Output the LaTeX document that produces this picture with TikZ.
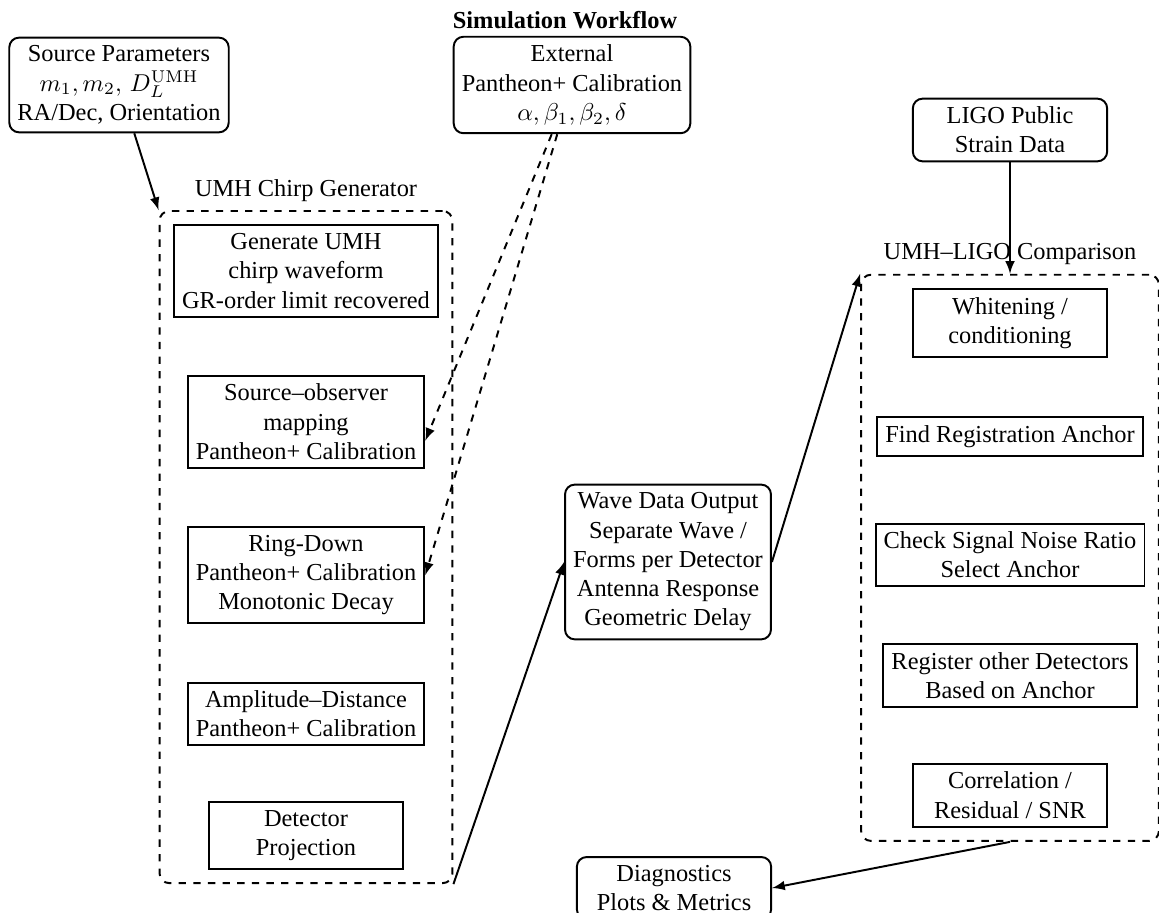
\documentclass[tikz,border=0pt]{standalone}
\usepackage[no-math]{fontspec}
\setmainfont{Liberation Serif}
\usepackage{tikz}
\usetikzlibrary{positioning}
\usetikzlibrary{fit}
\tikzset{
    blk/.style={
    draw,
    thick,
    minimum width=2.8cm,
    align=center
    },
    rblk/.style={
    blk,
    rounded corners
    },
    grp/.style={
    draw,
    thick,
    dashed,
    rounded corners,
    inner sep=5.5pt
    }
}

\begin{document}
\begin{tikzpicture}[x=0.41pt,y=-0.41pt]
\useasboundingbox (0,0) rectangle (1159,913);

\node [font=\bfseries] (title) at (565,20) {Simulation Workflow};

\node [rblk](src) at (119,85) {Source Parameters\\$m_1, m_2,\, D_L^{\mathrm{UMH}}$\\RA/Dec, Orientation};
\node [rblk](ext) at (572,85) {External\\Pantheon+ Calibration\\$\alpha, \beta_1, \beta_2, \delta$};
\node [rblk](ligo) at (1010,130) {LIGO Public\\Strain Data};

\node [blk](gen) at (306,271) {Generate UMH\\chirp waveform\\GR-order limit recovered};
\node [blk, below=23.5pt of gen](so) {Source--observer\\mapping\\Pantheon+ Calibration};
\node [blk, below=23.5pt of so](rd) {Ring-Down\\Pantheon+ Calibration\\Monotonic Decay};
\node [blk, below=23.5pt of rd](amp) {Amplitude--Distance\\Pantheon+ Calibration};
\node [blk, below=22.5pt of amp](det) {Detector\\Projection};
\node [grp, fit=(gen)(so)(rd)(amp)(det)](chirp) {};
\node [above] at (chirp.north) {UMH Chirp Generator};

\node [rblk](wave) at (668,562) {Wave Data Output\\Separate Wave /\\Forms per Detector\\Antenna Response\\Geometric Delay};

\node [blk](whit) at (1010,323) {Whitening /\\conditioning};
\node [blk, below=24pt of whit](find) {Find Registration Anchor};
\node [blk, below=27pt of find](snr) {Check Signal Noise Ratio\\Select Anchor};
\node [blk, below=23pt of snr](reg) {Register other Detectors\\Based on Anchor};
\node [blk, below=22.5pt of reg](corr) {Correlation /\\Residual / SNR};
\node [grp, fit=(whit)(find)(snr)(reg)(corr)](cmp) {};
\node [above] at (cmp.north) {UMH--LIGO Comparison};

\node [rblk](diag) at (674,888) {Diagnostics\\Plots \& Metrics};

\draw[thick,-latex] (src) -- (chirp.north west);
\draw[thick,dashed,-latex] (ext) -- (so.-9);
\draw[thick,dashed,-latex] (ext) -- (rd.east);
\draw[thick,-latex] (chirp.south east) -- (wave.west);
\draw[thick,-latex] (wave.east) -- (cmp.north west);
\draw[thick,-latex] (ligo) -- (cmp.north);
\draw[thick,-latex] (cmp.south) -- (diag.east);

\end{tikzpicture}
\end{document}
